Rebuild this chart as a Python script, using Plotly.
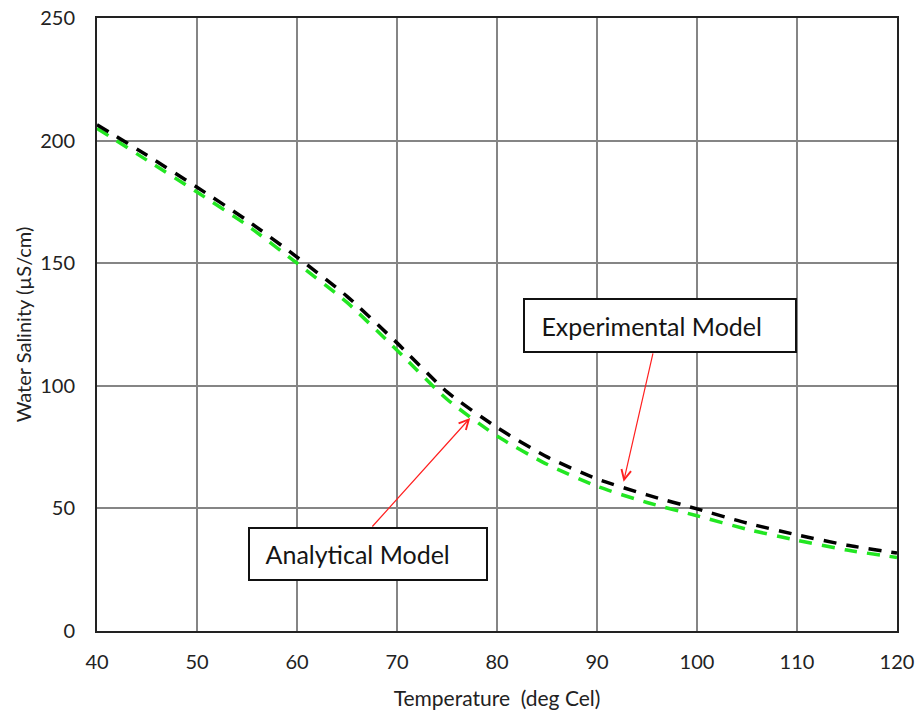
import plotly.graph_objects as go

# Data
temperature = [40, 45, 50, 55, 60, 65, 70, 75, 80, 85, 90, 95, 100, 105, 110, 115, 120]
experimental = [206.5, 194, 181, 167.5, 152.5, 136.5, 117.5, 97.5, 83, 71, 62, 55.5, 49.8, 44, 39.2, 35, 31.8]
analytical = [205, 192, 179, 165.5, 150, 134, 114.5, 94.5, 79.5, 68, 59, 52.4, 47, 41.5, 37, 33, 30]

x_ticks = [40, 50, 60, 70, 80, 90, 100, 110, 120]
y_ticks = [0, 50, 100, 150, 200, 250]

FONT = "Lato"

fig = go.Figure()
fig.add_trace(go.Scatter(
    x=temperature, y=analytical, mode="lines", name="Analytical Model",
    line=dict(color="#22e622", width=3.5, dash="13px,10px", shape="spline", smoothing=0.6),
))
fig.add_trace(go.Scatter(
    x=temperature, y=experimental, mode="lines", name="Experimental Model",
    line=dict(color="#000000", width=3.5, dash="13px,10px", shape="spline", smoothing=0.6),
))

# arrows (empty-text annotations so arrow tails sit on box edges)
fig.add_annotation(x=92.66, y=60.9, ax=95.63, ay=113.8, xref="x", yref="y", axref="x", ayref="y",
                   text="", showarrow=True, arrowhead=5, arrowsize=1.6, arrowwidth=1.2,
                   arrowcolor="#ff2020")
fig.add_annotation(x=77.32, y=86.9, ax=67.4, ay=42.0, xref="x", yref="y", axref="x", ayref="y",
                   text="", showarrow=True, arrowhead=5, arrowsize=1.6, arrowwidth=1.2,
                   arrowcolor="#ff2020")

# labelled boxes
fig.add_annotation(x=96.33, y=124.6, xref="x", yref="y", showarrow=False,
                   text="\u00a0Experimental Model", align="left",
                   width=250, height=31, borderpad=10, bordercolor="#111111", borderwidth=2,
                   bgcolor="#ffffff", font=dict(family=FONT, size=25, color="#151515"))
fig.add_annotation(x=67.1, y=31.4, xref="x", yref="y", showarrow=False,
                   text="\u00a0Analytical Model", align="left",
                   width=216, height=30, borderpad=10, bordercolor="#111111", borderwidth=2,
                   bgcolor="#ffffff", font=dict(family=FONT, size=25, color="#151515"))

fig.update_layout(
    width=917, height=710,
    margin=dict(l=97, r=20, t=18, b=79),
    paper_bgcolor="#ffffff", plot_bgcolor="#ffffff",
    showlegend=False,
    font=dict(family=FONT, size=20, color="#222222"),
)
fig.update_xaxes(
    range=[40, 120], tickvals=x_ticks, ticktext=[str(v) for v in x_ticks],
    showgrid=True, gridcolor="#858585", gridwidth=2,
    showline=True, linecolor="#222222", linewidth=2, mirror=True,
    zeroline=False, ticks="", ticklabelstandoff=12, automargin=False,
    tickfont=dict(family=FONT, size=20, color="#222222"),
    title=dict(text="Temperature  (deg Cel)", font=dict(family=FONT, size=21, color="#222222"), standoff=19),
)
fig.update_yaxes(
    range=[0, 250], tickvals=y_ticks, ticktext=[str(v) for v in y_ticks],
    showgrid=True, gridcolor="#858585", gridwidth=2,
    showline=True, linecolor="#222222", linewidth=2, mirror=True,
    zeroline=False, ticks="", ticklabelstandoff=16, automargin=False,
    tickfont=dict(family=FONT, size=20, color="#222222"),
    title=dict(text="Water Salinity (µS/cm)", font=dict(family=FONT, size=20, color="#222222"), standoff=3),
)

fig.write_html("out.html")
